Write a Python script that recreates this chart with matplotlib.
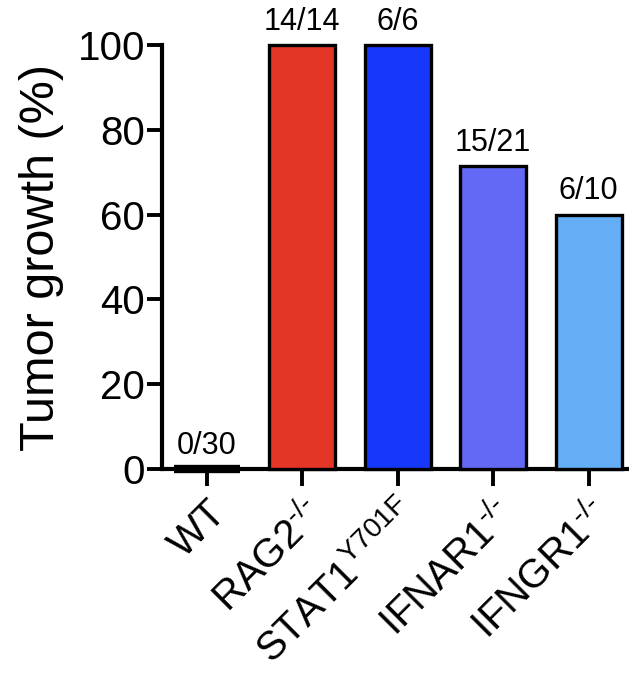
import matplotlib
matplotlib.use("Agg")
import matplotlib.pyplot as plt

plt.rcParams['font.family'] = ['Liberation Sans', 'DejaVu Sans']
plt.rcParams['mathtext.fontset'] = 'custom'
plt.rcParams['mathtext.rm'] = 'Liberation Sans'
plt.rcParams['mathtext.it'] = 'Liberation Sans'

genotypes = ['WT', r'RAG2$^{\text{-/-}}$', r'STAT1$^{\text{Y701F}}$',
             r'IFNAR1$^{\text{-/-}}$', r'IFNGR1$^{\text{-/-}}$']
grown = [0, 14, 6, 15, 6]
total = [30, 14, 6, 21, 10]
growth_pct = [100.0 * g / t for g, t in zip(grown, total)]
colors = ['#000000', '#E33626', '#1638FA', '#6469F5', '#63AEF5']

fig = plt.figure(figsize=(6.29, 6.81), dpi=100)
ax = fig.add_axes([0.2576, 0.3113, 0.742, 0.6226])

x = list(range(len(genotypes)))
# zero-height bars get a heavier outline so they still show on the axis
edge_w = [6 if h == 0 else 2.4 for h in growth_pct]
ax.bar(x, growth_pct, width=0.69, color=colors, edgecolor='black',
       linewidth=edge_w, clip_on=False, zorder=3)

for xi, h, g, t in zip(x, growth_pct, grown, total):
    ax.text(xi, h + 2.0, f'{g}/{t}', ha='center', va='bottom', fontsize=22)

ax.set_xlim(-0.47, 4.42)
ax.set_ylim(0, 100)
ax.set_yticks([0, 20, 40, 60, 80, 100])
ax.set_xticks(x)
ax.set_xticklabels(genotypes, rotation=45, ha='right', rotation_mode='anchor',
                   fontsize=29)
ax.set_ylabel('Tumor growth (%)', fontsize=35)
ax.yaxis.set_label_coords(-0.21, 0.5)

for side in ['top', 'right']:
    ax.spines[side].set_visible(False)
for side in ['left', 'bottom']:
    ax.spines[side].set_linewidth(3)
ax.tick_params(axis='y', length=11, width=2.8, labelsize=29, pad=1)
ax.tick_params(axis='x', length=12, width=2.8, pad=6)

plt.savefig('out.png', dpi=100)
